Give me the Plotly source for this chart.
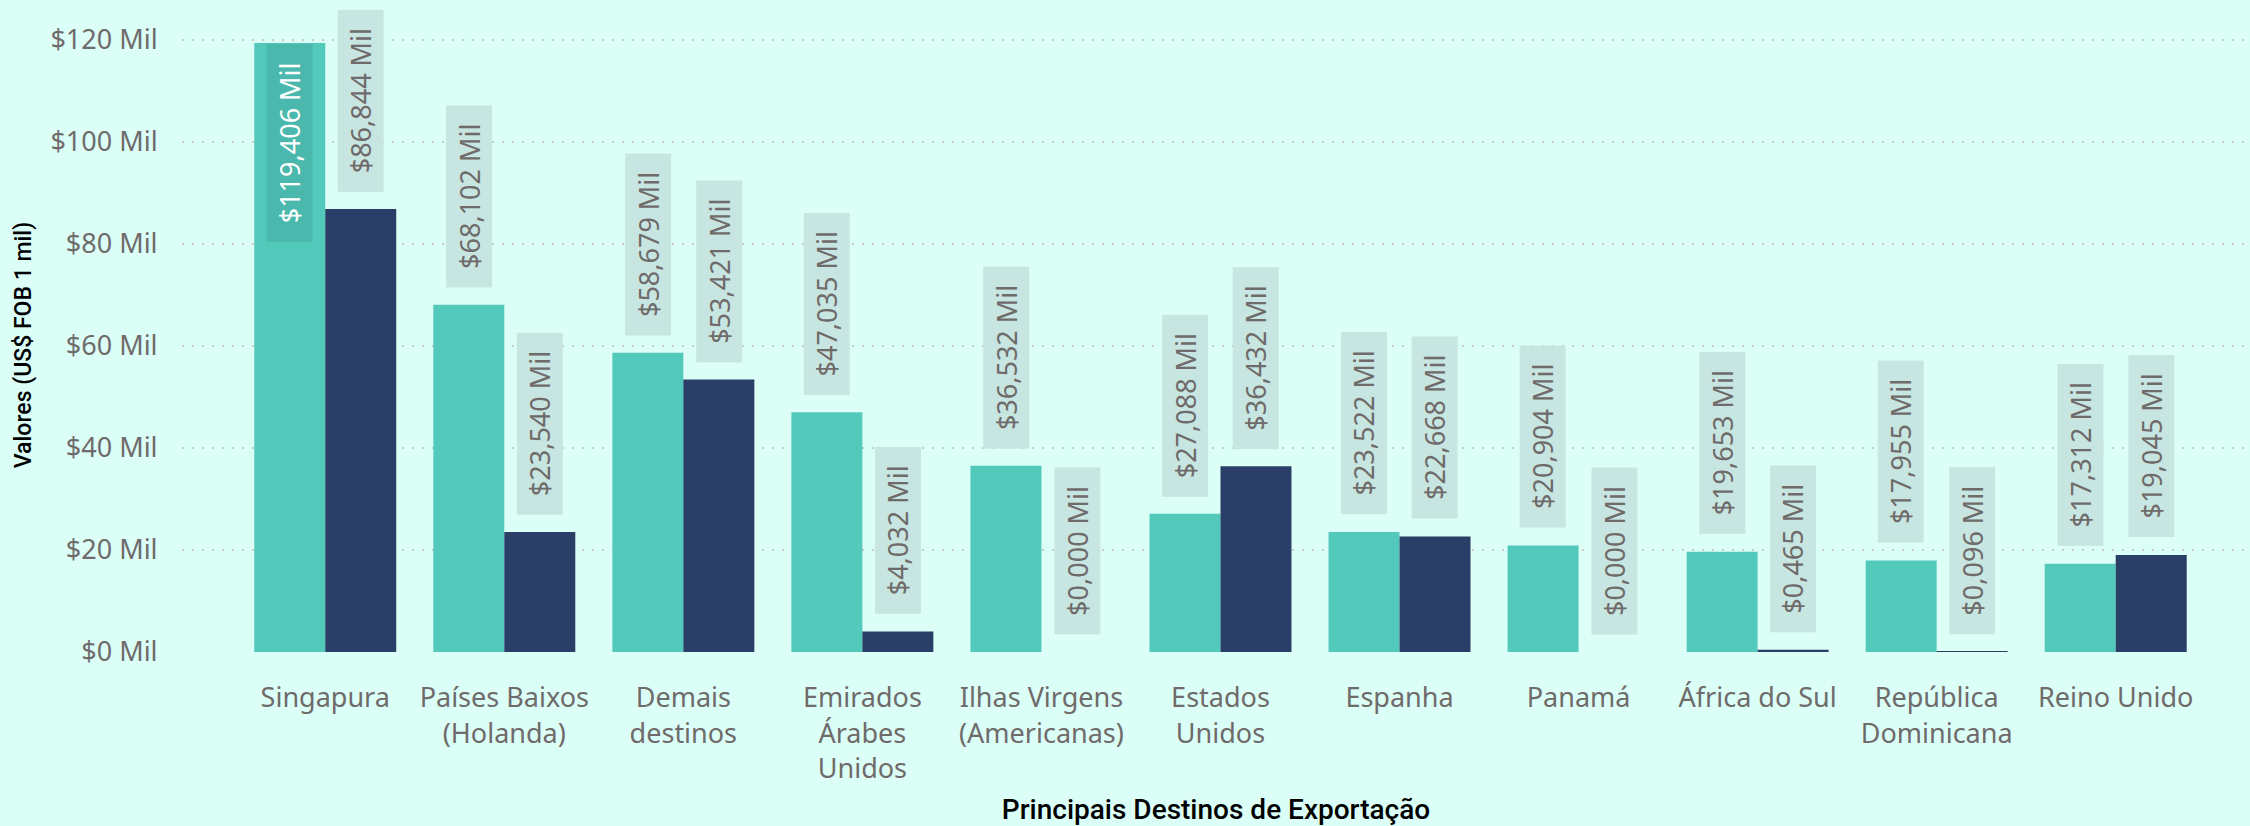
import plotly.graph_objects as go

categories = [
    "Singapura", "Países Baixos<br>(Holanda)", "Demais<br>destinos",
    "Emirados<br>Árabes<br>Unidos", "Ilhas Virgens<br>(Americanas)", "Estados<br>Unidos",
    "Espanha", "Panamá", "África do Sul", "República<br>Dominicana", "Reino Unido",
]
serie_1 = [119.406, 68.102, 58.679, 47.035, 36.532, 27.088, 23.522, 20.904, 19.653, 17.955, 17.312]
serie_2 = [86.844, 23.540, 53.421, 4.032, 0.000, 36.432, 22.668, 0.000, 0.465, 0.096, 19.045]
y_ticks = [0, 20, 40, 60, 80, 100, 120]
y_tick_labels = [f"${v} Mil" for v in y_ticks]

BG = "#DBFEF7"
TEAL = "#53C9BC"
NAVY = "#293F67"
GREY = "#6F6B6A"
BOX = "#C8E6E1"
BOX_IN = "#4AB8AC"
LABEL_FONT = "Segoe UI, Noto Sans, Open Sans, sans-serif"
TITLE_FONT = "Roboto, DejaVu Sans, sans-serif"

BARGAP = 0.207
YMAX = 120

fig = go.Figure()
fig.add_trace(go.Bar(x=categories, y=serie_1, marker=dict(color=TEAL, line=dict(width=0)), name="Série 1"))
fig.add_trace(go.Bar(x=categories, y=serie_2, marker=dict(color=NAVY, line=dict(width=0)), name="Série 2"))


def fmt(v):
    return "$" + f"{v:.3f}".replace(".", ",") + " Mil"


NB = "\u00a0"
annotations = []
offset = (1 - BARGAP) / 4
for s, (vals, sign) in enumerate([(serie_1, -1), (serie_2, 1)]):
    for i, v in enumerate(vals):
        inside = v > YMAX * 0.95
        annotations.append(dict(
            x=i + sign * offset, y=v, xref="x", yref="y",
            text=NB * 2 + fmt(v) + NB * 2,
            textangle=-90, showarrow=False,
            yanchor="top" if inside else "bottom",
            yshift=0 if inside else 17,
            bgcolor=BOX_IN if inside else BOX,
            borderpad=4,
            font=dict(family=LABEL_FONT, size=27, color="white" if inside else GREY),
        ))

fig.update_layout(
    width=2250, height=826,
    paper_bgcolor=BG, plot_bgcolor=BG,
    margin=dict(l=182, r=0, t=38, b=172),
    barmode="group", bargap=BARGAP, bargroupgap=0,
    showlegend=False,
    annotations=annotations,
    xaxis=dict(
        type="category",
        range=[-0.8, 10.75],
        tickfont=dict(family=LABEL_FONT, size=27, color=GREY),
        ticks="outside", ticklen=22, tickcolor=BG,
        showgrid=False, showline=False, zeroline=False,
        title=dict(text="Principais Destinos de Exportação",
                   font=dict(family=TITLE_FONT, size=28, color="black", weight=500),
                   standoff=21),
    ),
    yaxis=dict(
        range=[0, YMAX + 0.4],
        tickvals=y_ticks, ticktext=y_tick_labels,
        tickfont=dict(family=LABEL_FONT, size=27, color=GREY),
        ticks="outside", ticklen=18, tickcolor=BG,
        showgrid=True, gridcolor="#C9C9C9", gridwidth=2, griddash="2px,8px",
        zeroline=False, showline=False,
        title=dict(text="Valores (US$ FOB 1 mil)",
                   font=dict(family=TITLE_FONT, size=23, color="black", weight=500),
                   standoff=12),
    ),
)

fig.write_html("out.html", config={"displayModeBar": False},
               post_script="document.body.style.margin='0';")
